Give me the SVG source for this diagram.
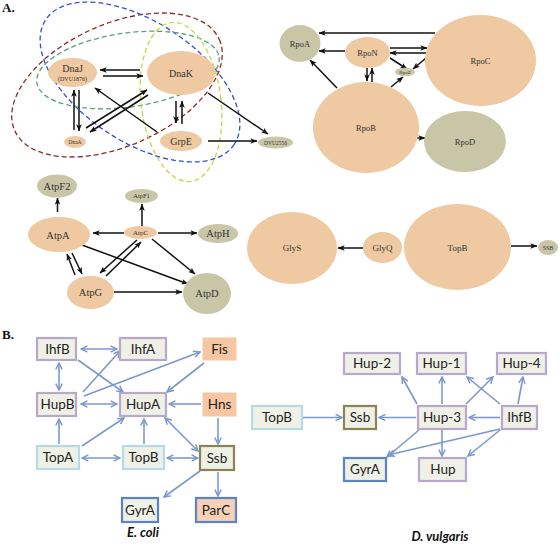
<svg xmlns="http://www.w3.org/2000/svg" width="560" height="546" viewBox="0 0 560 546">
<style>
.pe{fill:#eec9a1}
.ol{fill:#c9c6a8}
.t{font-family:"Liberation Serif",serif;fill:#333;text-anchor:middle}
.lbl{font-family:"Liberation Serif",serif;font-weight:bold;font-size:13px;fill:#111}
.ar{stroke:#111;stroke-width:1.5;fill:none;marker-end:url(#ah)}
.de{fill:none;stroke-width:1.3;stroke-dasharray:5 3}
.bx{fill:#eff0e6;stroke-width:2.2}
.pu{stroke:#b8a8cc}
.lb{stroke:#b5dbe6}
.ov{stroke:#8a8454}
.bl{stroke:#5b84c4}
.pf{fill:#f6c7a2;stroke:#f6c7a2}
.ba{stroke:#7b98cc;stroke-width:1.6;fill:none;marker-end:url(#bh)}
.bb{marker-start:url(#bh)}
.s{font-family:Lato,"Open Sans",sans-serif;font-size:13.5px;fill:#222;text-anchor:middle}
.sp{font-family:Lato,"Open Sans",sans-serif;font-size:13px;font-weight:bold;font-style:italic;fill:#111;text-anchor:middle}
</style>
<defs>
<marker id="ah" viewBox="0 0 10 8" refX="9.5" refY="4" markerWidth="7" markerHeight="5.6" orient="auto" markerUnits="userSpaceOnUse"><path d="M0,0 L10,4 L0,8 L2.5,4z" fill="#111"/></marker>
<marker id="bh" viewBox="0 0 10 10" refX="9" refY="5" markerWidth="8" markerHeight="8" orient="auto-start-reverse" markerUnits="userSpaceOnUse"><path d="M1,1 L9,5 L1,9" fill="none" stroke="#7b98cc" stroke-width="1.8"/></marker>
</defs>
<rect width="560" height="546" fill="#fff"/>
<text class="lbl" x="2" y="12">A.</text>
<text class="lbl" x="2" y="339">B.</text>

<g id="groups">
<ellipse class="de" cx="117" cy="85" rx="112" ry="61" transform="rotate(-24 117 85)" stroke="#8b2b22"/>
<ellipse class="de" cx="140" cy="82" rx="113" ry="60" transform="rotate(33.5 140 82)" stroke="#3050d0"/>
<ellipse class="de" cx="128" cy="70" rx="92" ry="37" transform="rotate(-8 128 70)" stroke="#5f9e7a"/>
<ellipse class="de" cx="181" cy="102" rx="40" ry="80" transform="rotate(-7 181 102)" stroke="#c5d64a"/>
</g>

<g id="connectors">
<line class="ar" x1="140" y1="70" x2="100" y2="70"/>
<line class="ar" x1="103" y1="76" x2="143" y2="76"/>
<line class="ar" x1="74" y1="130" x2="74" y2="90"/>
<line class="ar" x1="79" y1="90" x2="79" y2="131"/>
<line class="ar" x1="86" y1="128" x2="147" y2="90"/>
<line class="ar" x1="148" y1="95" x2="90" y2="132"/>
<line class="ar" x1="157" y1="132" x2="95" y2="88"/>
<line class="ar" x1="176" y1="101" x2="176" y2="123"/>
<line class="ar" x1="182" y1="124" x2="182" y2="101"/>
<line class="ar" x1="208" y1="93" x2="268" y2="134"/>
<line class="ar" x1="208" y1="141" x2="257" y2="141"/>

<line class="ar" x1="435" y1="33" x2="319" y2="33"/>
<line class="ar" x1="345" y1="51" x2="319" y2="51"/>
<line class="ar" x1="390" y1="48" x2="427" y2="48"/>
<line class="ar" x1="427" y1="53" x2="390" y2="53"/>
<line class="ar" x1="390" y1="58" x2="407" y2="69"/>
<line class="ar" x1="426" y1="58" x2="413" y2="69"/>
<line class="ar" x1="367" y1="68" x2="367" y2="81"/>
<line class="ar" x1="372" y1="82" x2="372" y2="68"/>
<line class="ar" x1="337" y1="88" x2="310" y2="60"/>
<line class="ar" x1="391" y1="87" x2="403" y2="77"/>
<line class="ar" x1="417" y1="138" x2="425" y2="138"/>

<line class="ar" x1="57.5" y1="212" x2="57.5" y2="198"/>
<line class="ar" x1="142" y1="226" x2="142" y2="204"/>
<line class="ar" x1="124" y1="233" x2="93" y2="233"/>
<line class="ar" x1="158" y1="233" x2="197" y2="233"/>
<line class="ar" x1="75" y1="275" x2="67" y2="254"/>
<line class="ar" x1="72" y1="253" x2="82" y2="274"/>
<line class="ar" x1="82" y1="245" x2="188" y2="284"/>
<line class="ar" x1="152" y1="239" x2="195" y2="274"/>
<line class="ar" x1="137" y1="240" x2="100" y2="273"/>
<line class="ar" x1="106" y1="276" x2="141" y2="242"/>
<line class="ar" x1="114" y1="292" x2="182" y2="292"/>

<line class="ar" x1="363" y1="248" x2="338" y2="248"/>
<line class="ar" x1="511" y1="246" x2="537" y2="246"/>

<line class="ba bb" x1="81" y1="349" x2="117" y2="349"/>
<line class="ba bb" x1="59" y1="363" x2="59" y2="390"/>
<line class="ba" x1="78" y1="360" x2="123" y2="392"/>
<line class="ba" x1="83" y1="392" x2="120" y2="351"/>
<line class="ba" x1="84" y1="396" x2="200" y2="352"/>
<line class="ba" x1="204" y1="363" x2="167" y2="392"/>
<line class="ba bb" x1="81" y1="404" x2="117" y2="404"/>
<line class="ba" x1="201" y1="404" x2="169" y2="404"/>
<line class="ba" x1="59" y1="444" x2="59" y2="419"/>
<line class="ba" x1="82" y1="446" x2="124" y2="418"/>
<line class="ba bb" x1="82" y1="458" x2="120" y2="458"/>
<line class="ba" x1="144" y1="444" x2="144" y2="419"/>
<line class="ba bb" x1="165" y1="418" x2="198" y2="451"/>
<line class="ba" x1="218" y1="418" x2="218" y2="444"/>
<line class="ba bb" x1="167" y1="458" x2="198" y2="458"/>
<line class="ba" x1="200" y1="471" x2="164" y2="497"/>
<line class="ba" x1="218" y1="472" x2="218" y2="496"/>

<line class="ba" x1="303" y1="417.5" x2="342" y2="417.5"/>
<line class="ba" x1="416" y1="417.5" x2="379" y2="417.5"/>
<line class="ba" x1="500" y1="417.5" x2="469" y2="417.5"/>
<line class="ba" x1="417" y1="404" x2="402" y2="377"/>
<line class="ba" x1="442" y1="404" x2="442" y2="377"/>
<line class="ba" x1="466" y1="404" x2="493" y2="377"/>
<line class="ba" x1="500" y1="404" x2="467" y2="377"/>
<line class="ba" x1="518" y1="404" x2="523" y2="377"/>
<line class="ba" x1="419" y1="430" x2="387" y2="457"/>
<line class="ba" x1="500" y1="429" x2="388" y2="455"/>
<line class="ba" x1="442" y1="430" x2="442" y2="456"/>
<line class="ba" x1="500" y1="430" x2="468" y2="456"/>
</g>

<g id="DnaJ"><ellipse class="pe" cx="72.5" cy="72.5" rx="24.5" ry="14.5"/><text class="t" x="72.5" y="71.5" font-size="10">DnaJ</text><text class="t" x="72.5" y="81" font-size="6">(DVU1876)</text></g>
<g id="DnaK"><ellipse class="pe" cx="181" cy="73" rx="34" ry="22"/><text class="t" x="181" y="76.5" font-size="10">DnaK</text></g>
<g id="DnaA"><ellipse class="pe" cx="75" cy="142" rx="11" ry="6"/><text class="t" x="75" y="144" font-size="5.5">DnaA</text></g>
<g id="GrpE"><ellipse class="pe" cx="181" cy="141" rx="21" ry="10"/><text class="t" x="181" y="144.5" font-size="10">GrpE</text></g>
<g id="DVU2556"><ellipse class="ol" cx="275.5" cy="142.5" rx="17.5" ry="6"/><text class="t" x="275.5" y="144.5" font-size="5.5">DVU2556</text></g>

<g id="RpoA"><ellipse class="ol" cx="300" cy="43.5" rx="20.5" ry="18.5"/><text class="t" x="300" y="46.5" font-size="8.5">RpoA</text></g>
<g id="RpoN"><ellipse class="pe" cx="367.5" cy="52.5" rx="22.5" ry="15.5"/><text class="t" x="367.5" y="55.5" font-size="8.5">RpoN</text></g>
<g id="RpoZ"><ellipse class="ol" cx="405" cy="72" rx="10" ry="4.2"/><text class="t" x="405" y="73.8" font-size="5">RpoZ</text></g>
<g id="RpoC"><ellipse class="pe" cx="480.5" cy="60.5" rx="55.5" ry="45.5"/><text class="t" x="480.5" y="64" font-size="8.5">RpoC</text></g>
<g id="RpoB"><ellipse class="pe" cx="366" cy="127.5" rx="53" ry="45.5"/><text class="t" x="366" y="131" font-size="8.5">RpoB</text></g>
<g id="RpoD"><ellipse class="ol" cx="465" cy="141.5" rx="41" ry="30.5"/><text class="t" x="465" y="145" font-size="8.5">RpoD</text></g>

<g id="AtpF2"><ellipse class="ol" cx="57" cy="186" rx="20" ry="11.5"/><text class="t" x="57" y="189.5" font-size="10.5">AtpF2</text></g>
<g id="AtpA"><ellipse class="pe" cx="59" cy="234.5" rx="31" ry="17.5"/><text class="t" x="58" y="238.5" font-size="10.5">AtpA</text></g>
<g id="AtpF1"><ellipse class="ol" cx="141.5" cy="196" rx="16.5" ry="7"/><text class="t" x="141.5" y="198.3" font-size="6.5">AtpF1</text></g>
<g id="AtpC"><ellipse class="pe" cx="140.5" cy="232.5" rx="16.5" ry="6.5"/><text class="t" x="140.5" y="235" font-size="7">AtpC</text></g>
<g id="AtpH"><ellipse class="ol" cx="218" cy="233.5" rx="20" ry="9.5"/><text class="t" x="218" y="237" font-size="10.5">AtpH</text></g>
<g id="AtpG"><ellipse class="pe" cx="90.5" cy="292.5" rx="23.5" ry="16.5"/><text class="t" x="90.5" y="296" font-size="10.5">AtpG</text></g>
<g id="AtpD"><ellipse class="ol" cx="207" cy="293.5" rx="24" ry="20.5"/><text class="t" x="207" y="297" font-size="10.5">AtpD</text></g>

<g id="GlyS"><ellipse class="pe" cx="292" cy="248" rx="45" ry="36"/><text class="t" x="292" y="251" font-size="9">GlyS</text></g>
<g id="GlyQ"><ellipse class="pe" cx="382.5" cy="247.5" rx="19.5" ry="15.5"/><text class="t" x="382.5" y="251" font-size="9">GlyQ</text></g>
<g id="TopB1"><ellipse class="pe" cx="457.5" cy="247" rx="53.5" ry="43"/><text class="t" x="457.5" y="251" font-size="9">TopB</text></g>
<g id="SSB1"><ellipse class="ol" cx="548" cy="247.5" rx="10" ry="7.5"/><text class="t" x="548" y="249.5" font-size="6">SSB</text></g>

<g id="ec_IhfB"><rect class="bx pu" x="37" y="338" width="39" height="22"/><text class="s" x="57.5" y="353.7">IhfB</text></g>
<g id="ec_IhfA"><rect class="bx pu" x="120" y="338" width="46" height="22"/><text class="s" x="143" y="353.7">IhfA</text></g>
<g id="ec_Fis"><rect class="pf" x="203" y="338" width="33" height="22"/><text class="s" x="219.5" y="353.7">Fis</text></g>
<g id="ec_HupB"><rect class="bx pu" x="37" y="393" width="39" height="23"/><text class="s" x="57.5" y="409.2">HupB</text></g>
<g id="ec_HupA"><rect class="bx pu" x="120" y="393" width="46" height="23"/><text class="s" x="143" y="409.2">HupA</text></g>
<g id="ec_Hns"><rect class="pf" x="203" y="393" width="33" height="23"/><text class="s" x="219.5" y="409.2">Hns</text></g>
<g id="ec_TopA"><rect class="bx lb" x="37" y="446" width="42" height="23"/><text class="s" x="58" y="462.2">TopA</text></g>
<g id="ec_TopB"><rect class="bx lb" x="123" y="446" width="41" height="23"/><text class="s" x="143.5" y="462.2">TopB</text></g>
<g id="ec_Ssb"><rect class="bx ov" x="200" y="446" width="34" height="24" stroke-width="2.6"/><text class="s" x="217" y="462.7">Ssb</text></g>
<g id="ec_GyrA"><rect class="bx bl" x="122" y="498" width="36" height="24" stroke-width="2.6"/><text class="s" x="140" y="514.7">GyrA</text></g>
<g id="ec_ParC"><rect class="bx bl" x="196" y="498" width="40" height="24" stroke-width="2.6" style="fill:#f7d0b8"/><text class="s" x="216" y="514.7">ParC</text></g>

<g id="dv_Hup2"><rect class="bx pu" x="344" y="353" width="56" height="21"/><text class="s" x="372" y="368.2">Hup-2</text></g>
<g id="dv_Hup1"><rect class="bx pu" x="417" y="353" width="49" height="21"/><text class="s" x="441.5" y="368.2">Hup-1</text></g>
<g id="dv_Hup4"><rect class="bx pu" x="497" y="353" width="49" height="21"/><text class="s" x="521.5" y="368.2">Hup-4</text></g>
<g id="dv_TopB"><rect class="bx lb" x="252" y="406" width="50" height="23"/><text class="s" x="277" y="422.2">TopB</text></g>
<g id="dv_Ssb"><rect class="bx ov" x="344" y="406" width="32" height="23" stroke-width="2.6"/><text class="s" x="360" y="422.2">Ssb</text></g>
<g id="dv_Hup3"><rect class="bx pu" x="418" y="406" width="48" height="23"/><text class="s" x="442" y="422.2">Hup-3</text></g>
<g id="dv_IhfB"><rect class="bx pu" x="502" y="406" width="35" height="23"/><text class="s" x="519.5" y="422.2">IhfB</text></g>
<g id="dv_GyrA"><rect class="bx bl" x="344" y="458" width="42" height="23" stroke-width="2.6"/><text class="s" x="365" y="474.2">GyrA</text></g>
<g id="dv_Hup"><rect class="bx pu" x="419" y="458" width="47" height="23"/><text class="s" x="443" y="474.2">Hup</text></g>

<text class="sp" x="143" y="537">E. coli</text>
<text class="sp" x="440" y="541">D. vulgaris</text>
</svg>
